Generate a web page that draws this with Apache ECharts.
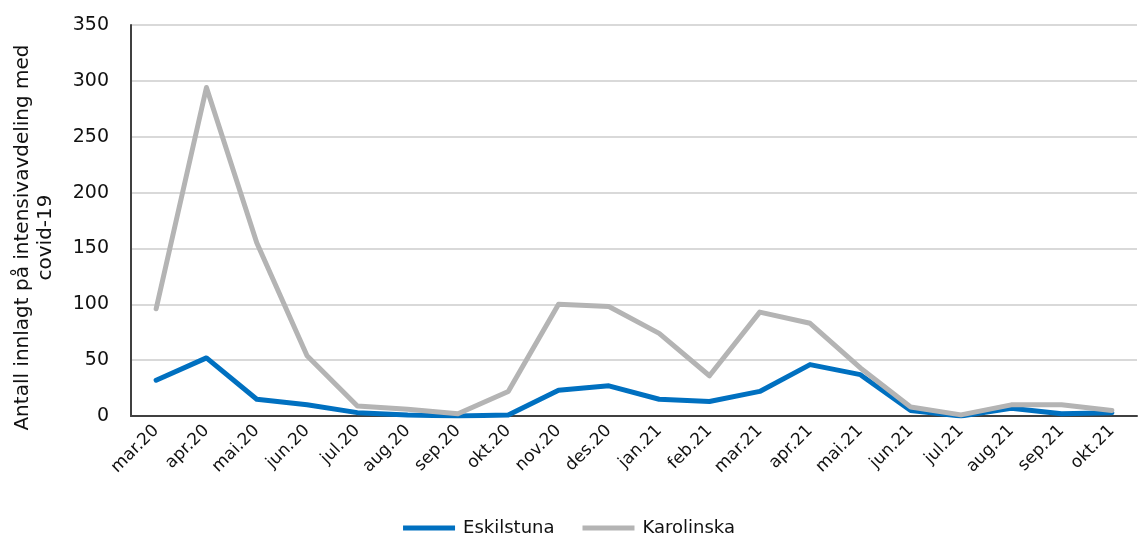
<!DOCTYPE html>
<html>
<head>
<meta charset="utf-8">
<script src="https://cdn.jsdelivr.net/npm/echarts@6/dist/echarts.min.js"></script>
<style>
  html, body { margin: 0; padding: 0; background: #fff; }
  #chart { width: 1138px; height: 545px; }
</style>
</head>
<body>
<div id="chart"></div>
<script>
const months = ['mar.20', 'apr.20', 'mai.20', 'jun.20', 'jul.20', 'aug.20', 'sep.20', 'okt.20', 'nov.20', 'des.20',
  'jan.21', 'feb.21', 'mar.21', 'apr.21', 'mai.21', 'jun.21', 'jul.21', 'aug.21', 'sep.21', 'okt.21'];
const eskilstuna = [32, 52, 15, 10, 3, 1, 0, 1, 23, 27, 15, 13, 22, 46, 37, 5, 0, 7, 2, 3];
const karolinska = [96, 294, 155, 54, 9, 6, 2, 22, 100, 98, 74, 36, 93, 83, 43, 8, 1, 10, 10, 5];
const yTicks = { min: 0, max: 350, interval: 50 };

const font = '"DejaVu Sans", sans-serif';
const chart = echarts.init(document.getElementById('chart'), null, { renderer: 'canvas' });

chart.setOption({
  backgroundColor: '#fff',
  animation: false,
  textStyle: { fontFamily: font },
  grid: { left: 131, right: 1, top: 25, bottom: 129, outerBoundsMode: 'none', containLabel: false },
  legend: {
    bottom: 3,
    left: 'center',
    itemWidth: 52,
    itemHeight: 5,
    itemGap: 28,
    icon: 'rect',
    textStyle: { fontSize: 18, color: '#111', fontFamily: font, padding: [0, 0, 0, 3] },
    data: ['Eskilstuna', 'Karolinska'],
  },
  xAxis: {
    type: 'category',
    data: months,
    boundaryGap: true,
    axisLine: { lineStyle: { color: '#404040', width: 2 } },
    axisTick: { show: false },
    axisLabel: { rotate: 45, fontSize: 17, color: '#111', margin: 12, fontFamily: font },
  },
  yAxis: {
    type: 'value',
    min: yTicks.min,
    max: yTicks.max,
    interval: yTicks.interval,
    name: 'Antall innlagt på intensivavdeling med\ncovid-19',
    nameLocation: 'middle',
    nameGap: 74,
    nameRotate: 90,
    nameTextStyle: { fontSize: 20, color: '#111', lineHeight: 23, align: 'center', fontFamily: font, padding: [0, 34, 0, 0] },
    axisLine: { show: true, lineStyle: { color: '#404040', width: 2 } },
    axisTick: { show: false },
    axisLabel: { fontSize: 19, color: '#111', margin: 22, fontFamily: font },
    splitLine: { lineStyle: { color: '#d9d9d9', width: 2 } },
  },
  series: [
    {
      name: 'Eskilstuna',
      type: 'line',
      data: eskilstuna,
      symbol: 'none',
      lineStyle: { color: '#0070c0', width: 5, cap: 'round', join: 'round' },
      itemStyle: { color: '#0070c0' },
    },
    {
      name: 'Karolinska',
      type: 'line',
      data: karolinska,
      symbol: 'none',
      lineStyle: { color: '#b4b4b4', width: 5, cap: 'round', join: 'round' },
      itemStyle: { color: '#b4b4b4' },
    },
  ],
});
window.addEventListener('resize', () => chart.resize());
</script>
</body>
</html>
